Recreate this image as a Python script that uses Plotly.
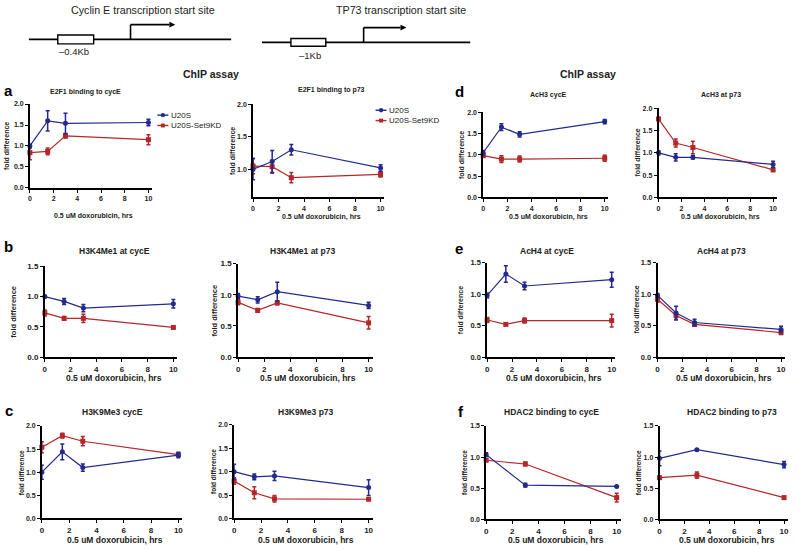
import plotly.graph_objects as go

W, H = 798, 549
BLUE = "#232a8c"
RED = "#b4262a"
FONT = "Liberation Sans"

# ---------------- data ----------------
time_hrs = [0, 1.5, 3, 10]
time_hdac = [0, 3, 10]
series_names = ["U20S", "U20S-Set9KD"]

e2f1_cyce_u20s = [1.00, 1.60, 1.54, 1.56]
e2f1_cyce_u20s_err = [0.05, 0.24, 0.24, 0.08]
e2f1_cyce_kd = [0.84, 0.87, 1.24, 1.15]
e2f1_cyce_kd_err = [0.17, 0.08, 0.05, 0.12]

e2f1_p73_u20s = [1.00, 1.12, 1.30, 1.02]
e2f1_p73_u20s_err = [0.16, 0.17, 0.08, 0.05]
e2f1_p73_kd = [1.05, 1.04, 0.87, 0.92]
e2f1_p73_kd_err = [0.12, 0.10, 0.08, 0.04]

ach3_cyce_u20s = [1.05, 1.65, 1.48, 1.78]
ach3_cyce_u20s_err = [0.05, 0.08, 0.06, 0.05]
ach3_cyce_kd = [0.98, 0.90, 0.90, 0.92]
ach3_cyce_kd_err = [0.03, 0.08, 0.07, 0.07]

ach3_p73_u20s = [1.00, 0.90, 0.90, 0.74]
ach3_p73_u20s_err = [0.05, 0.08, 0.04, 0.07]
ach3_p73_kd = [1.76, 1.22, 1.12, 0.62]
ach3_p73_kd_err = [0.04, 0.09, 0.14, 0.04]

h3k4_cyce_u20s = [1.00, 0.92, 0.81, 0.88]
h3k4_cyce_u20s_err = [0.02, 0.05, 0.06, 0.07]
h3k4_cyce_kd = [0.73, 0.64, 0.64, 0.49]
h3k4_cyce_kd_err = [0.05, 0.03, 0.07, 0.01]

h3k4_p73_u20s = [0.98, 0.92, 1.05, 0.83]
h3k4_p73_u20s_err = [0.04, 0.05, 0.15, 0.05]
h3k4_p73_kd = [0.88, 0.75, 0.87, 0.55]
h3k4_p73_kd_err = [0.04, 0.03, 0.03, 0.10]

ach4_cyce_u20s = [0.98, 1.32, 1.13, 1.23]
ach4_cyce_u20s_err = [0.04, 0.13, 0.06, 0.12]
ach4_cyce_kd = [0.59, 0.52, 0.58, 0.58]
ach4_cyce_kd_err = [0.04, 0.02, 0.04, 0.10]

ach4_p73_u20s = [0.98, 0.70, 0.55, 0.44]
ach4_p73_u20s_err = [0.03, 0.11, 0.05, 0.05]
ach4_p73_kd = [0.92, 0.66, 0.52, 0.39]
ach4_p73_kd_err = [0.05, 0.06, 0.03, 0.03]

h3k9_cyce_u20s = [1.00, 1.44, 1.10, 1.37]
h3k9_cyce_u20s_err = [0.15, 0.17, 0.08, 0.06]
h3k9_cyce_kd = [1.54, 1.79, 1.67, 1.38]
h3k9_cyce_kd_err = [0.12, 0.05, 0.10, 0.03]

h3k9_p73_u20s = [1.00, 0.89, 0.91, 0.66]
h3k9_p73_u20s_err = [0.16, 0.06, 0.10, 0.17]
h3k9_p73_kd = [0.80, 0.55, 0.42, 0.41]
h3k9_p73_kd_err = [0.07, 0.13, 0.07, 0.02]

hdac2_cyce_u20s = [1.04, 0.55, 0.53]
hdac2_cyce_u20s_err = [0.03, 0.03, 0.01]
hdac2_cyce_kd = [0.95, 0.89, 0.35]
hdac2_cyce_kd_err = [0.02, 0.03, 0.07]

hdac2_p73_u20s = [0.98, 1.12, 0.88]
hdac2_p73_u20s_err = [0.12, 0.01, 0.05]
hdac2_p73_kd = [0.67, 0.71, 0.35]
hdac2_p73_kd_err = [0.01, 0.05, 0.02]

x_ticks = [0, 2, 4, 6, 8, 10]
y_ticks_2 = [0.0, 0.5, 1.0, 1.5, 2.0]
y_ticks_15 = [0.0, 0.5, 1.0, 1.5]
y_ticks_p73a = [1.0, 1.5, 2.0]

# ---------------- layout helpers ----------------
def px(x):
    return x / W

def py(y):
    return 1 - y / H

# title, x, u20s, err, kd, err, yticks, yrange, x0, x10, ytop, ybot,
# title xy, ylabel x, xlabel y, text size, y-tick size, y-label size
panels = [
    ("E2F1 binding to cycE", time_hrs, e2f1_cyce_u20s, e2f1_cyce_u20s_err, e2f1_cyce_kd, e2f1_cyce_kd_err,
     y_ticks_2, [0, 2.0], 28, 147, 101.7, 187, (84, 89), 5, 216, 7, 7, 7),
    ("E2F1 binding to p73", time_hrs, e2f1_p73_u20s, e2f1_p73_u20s_err, e2f1_p73_kd, e2f1_p73_kd_err,
     y_ticks_p73a, [0.565, 2.0], 252, 380, 102, 196.7, (331, 87), 232, 217, 7, 7, 7),
    ("AcH3 cycE", time_hrs, ach3_cyce_u20s, ach3_cyce_u20s_err, ach3_cyce_kd, ach3_cyce_kd_err,
     y_ticks_2, [0, 2.0], 483, 605, 110, 196.7, (549, 93), 462, 217, 7, 7, 7),
    ("AcH3 at p73", time_hrs, ach3_p73_u20s, ach3_p73_u20s_err, ach3_p73_kd, ach3_p73_kd_err,
     y_ticks_2, [0, 2.0], 659, 774, 106, 196.7, (722, 93), 638, 217, 7, 7, 7),
    ("H3K4Me1 at cycE", time_hrs, h3k4_cyce_u20s, h3k4_cyce_u20s_err, h3k4_cyce_kd, h3k4_cyce_kd_err,
     y_ticks_15, [0, 1.5], 43, 172, 266.7, 359, (113, 251), 12, 380, 8.5, 8, 7.5),
    ("H3K4Me1 at p73", time_hrs, h3k4_p73_u20s, h3k4_p73_u20s_err, h3k4_p73_kd, h3k4_p73_kd_err,
     y_ticks_15, [0, 1.5], 237, 368, 264, 359, (302, 251), 213, 380, 8.5, 8, 7.5),
    ("AcH4 at cycE", time_hrs, ach4_cyce_u20s, ach4_cyce_u20s_err, ach4_cyce_kd, ach4_cyce_kd_err,
     y_ticks_15, [0, 1.5], 487, 612, 263, 359, (547, 251), 461, 380, 8.5, 7.5, 7),
    ("AcH4 at p73", time_hrs, ach4_p73_u20s, ach4_p73_u20s_err, ach4_p73_kd, ach4_p73_kd_err,
     y_ticks_15, [0, 1.5], 658, 782, 263, 359, (722, 251), 637, 380, 8.5, 7.5, 7),
    ("H3K9Me3 cycE", time_hrs, h3k9_cyce_u20s, h3k9_cyce_u20s_err, h3k9_cyce_kd, h3k9_cyce_kd_err,
     y_ticks_2, [0, 2.0], 40, 177, 429, 523, (111, 415), 19, 545, 8.5, 7, 6.5),
    ("H3K9Me3 p73", time_hrs, h3k9_p73_u20s, h3k9_p73_u20s_err, h3k9_p73_kd, h3k9_p73_kd_err,
     y_ticks_2, [0, 2.0], 233, 368, 428, 523, (305, 415), 213, 545, 8.5, 7, 6.5),
    ("HDAC2 binding to cycE", time_hdac, hdac2_cyce_u20s, hdac2_cyce_u20s_err, hdac2_cyce_kd, hdac2_cyce_kd_err,
     y_ticks_15, [0, 1.5], 486, 617, 429, 524, (552, 415), 464, 545, 8.5, 7, 6.5),
    ("HDAC2 binding to p73", time_hdac, hdac2_p73_u20s, hdac2_p73_u20s_err, hdac2_p73_kd, hdac2_p73_kd_err,
     y_ticks_15, [0, 1.5], 660, 785, 429, 524, (733, 415), 639, 545, 8.5, 7, 6.5),
]

fig = go.Figure()
annotations = []
shapes = []
layout_axes = {}
X_MAX = 10.3

for i, (title, xs, u, ue, k, ke, yt, yr, x0, x10, ytop, ybot, txy, ylx, xly, fs, yts, yls) in enumerate(panels):
    n = "" if i == 0 else str(i + 1)
    xa, ya = "x" + n, "y" + n
    xend = x0 + (x10 - x0) * X_MAX / 10
    xtf = dict(family=FONT, size=7 if fs < 8 else 8, color="#222", weight=700)
    ytf = dict(family=FONT, size=yts, color="#222", weight=700)
    layout_axes["xaxis" + n] = dict(
        domain=[px(x0), px(xend)], range=[0, X_MAX], anchor=ya,
        tickvals=x_ticks, showline=True, linecolor="black", linewidth=1.6,
        ticks="outside", ticklen=3, tickwidth=1.4, tickcolor="black",
        showgrid=False, zeroline=False, tickfont=xtf,
    )
    layout_axes["yaxis" + n] = dict(
        domain=[py(ybot), py(ytop)], range=yr, anchor=xa,
        tickvals=yt, tickformat=".1f", showline=True, linecolor="black", linewidth=1.6,
        ticks="outside", ticklen=3, tickwidth=1.4, tickcolor="black",
        showgrid=False, zeroline=False, tickfont=ytf,
    )
    for vals, errs, col, sym, nm in [(k, ke, RED, "square", series_names[1]),
                                     (u, ue, BLUE, "circle", series_names[0])]:
        fig.add_trace(go.Scatter(
            x=xs, y=vals, xaxis=xa, yaxis=ya, name=nm, mode="lines+markers",
            line=dict(color=col, width=1.2),
            marker=dict(color=col, symbol=sym, size=5),
            error_y=dict(type="data", array=errs, color=col, thickness=1.5, width=2),
            cliponaxis=False, showlegend=False,
        ))
    annotations.append(dict(x=px(txy[0]), y=py(txy[1]), xref="paper", yref="paper",
                            text="<b>%s</b>" % title, showarrow=False,
                            font=dict(family=FONT, size=fs if fs < 8 else 8.5, color="#222"),
                            xanchor="center", yanchor="middle"))
    annotations.append(dict(x=px(ylx), y=py((ytop + ybot) / 2), xref="paper", yref="paper",
                            text="<b>fold difference</b>", showarrow=False, textangle=-90,
                            font=dict(family=FONT, size=yls, color="#222"),
                            xanchor="center", yanchor="middle"))
    annotations.append(dict(x=px((x0 + xend) / 2 + 3), y=py(xly), xref="paper", yref="paper",
                            text="<b>0.5 uM doxorubicin, hrs</b>", showarrow=False,
                            font=dict(family=FONT, size=fs, color="#222"),
                            xanchor="center", yanchor="middle"))

for letter, lx, ly in [("a", 7, 88), ("b", 7, 247), ("c", 7, 413),
                       ("d", 459, 89), ("e", 459, 249), ("f", 461, 414)]:
    annotations.append(dict(x=px(lx), y=py(ly), xref="paper", yref="paper",
                            text="<b>%s</b>" % letter, showarrow=False,
                            font=dict(family=FONT, size=15, color="black"),
                            xanchor="center", yanchor="middle"))

for lx, ly in [(156, 113), (375, 108)]:
    for j, (col, sym) in enumerate([(BLUE, "circle"), (RED, "square")]):
        yy = ly + j * 10.5
        shapes.append(dict(type="line", xref="paper", yref="paper",
                           x0=px(lx), x1=px(lx + 11), y0=py(yy), y1=py(yy),
                           line=dict(color=col, width=1.4)))
        if sym == "circle":
            shapes.append(dict(type="circle", xref="paper", yref="paper",
                               x0=px(lx + 3.3), x1=px(lx + 7.7), y0=py(yy + 2.2), y1=py(yy - 2.2),
                               fillcolor=col, line=dict(color=col, width=0)))
        else:
            shapes.append(dict(type="rect", xref="paper", yref="paper",
                               x0=px(lx + 3.5), x1=px(lx + 7.5), y0=py(yy + 2), y1=py(yy - 2),
                               fillcolor=col, line=dict(color=col, width=0)))
        annotations.append(dict(x=px(lx + 11.5), y=py(yy), xref="paper", yref="paper",
                                text=series_names[j], showarrow=False,
                                font=dict(family=FONT, size=8, color="#222"),
                                xanchor="left", yanchor="middle"))

def seg(xa_, ya_, xb_, yb_, w=1.6):
    shapes.append(dict(type="line", xref="paper", yref="paper",
                       x0=px(xa_), y0=py(ya_), x1=px(xb_), y1=py(yb_),
                       line=dict(color="black", width=w)))

def tri(xt, yt):
    shapes.append(dict(type="path", xref="paper", yref="paper",
                       path="M %f %f L %f %f L %f %f Z" % (px(xt), py(yt), px(xt - 6), py(yt - 3),
                                                           px(xt - 6), py(yt + 3)),
                       fillcolor="black", line=dict(color="black", width=0)))

seg(27, 36, 230, 36)
shapes.append(dict(type="rect", xref="paper", yref="paper",
                   x0=px(56), x1=px(92), y0=py(40.5), y1=py(31.5),
                   fillcolor="white", line=dict(color="black", width=1.4)))
seg(129, 36, 129, 21)
seg(129, 21, 168, 21)
tri(174, 21)
annotations.append(dict(x=px(142), y=py(6), xref="paper", yref="paper",
                        text="Cyclin E transcription start site", showarrow=False,
                        font=dict(family=FONT, size=10.7, color="#222"), xanchor="center", yanchor="middle"))
annotations.append(dict(x=px(72), y=py(48), xref="paper", yref="paper",
                        text="\u20130.4Kb", showarrow=False,
                        font=dict(family=FONT, size=9.5, color="#222"), xanchor="center", yanchor="middle"))
seg(261, 39, 470, 39)
shapes.append(dict(type="rect", xref="paper", yref="paper",
                   x0=px(290), x1=px(325), y0=py(43), y1=py(35),
                   fillcolor="white", line=dict(color="black", width=1.4)))
seg(363, 39, 363, 24)
seg(363, 24, 400, 24)
tri(406, 24)
annotations.append(dict(x=px(401), y=py(6), xref="paper", yref="paper",
                        text="TP73 transcription start site", showarrow=False,
                        font=dict(family=FONT, size=10.7, color="#222"), xanchor="center", yanchor="middle"))
annotations.append(dict(x=px(309), y=py(52), xref="paper", yref="paper",
                        text="\u20131Kb", showarrow=False,
                        font=dict(family=FONT, size=9.5, color="#222"), xanchor="center", yanchor="middle"))

for cx in [210, 588]:
    annotations.append(dict(x=px(cx), y=py(71), xref="paper", yref="paper",
                            text="<b>ChIP assay</b>", showarrow=False,
                            font=dict(family=FONT, size=10.5, color="#222"), xanchor="center", yanchor="middle"))

fig.update_layout(
    width=W, height=H, margin=dict(l=0, r=0, t=0, b=0),
    paper_bgcolor="white", plot_bgcolor="white",
    showlegend=False, annotations=annotations, shapes=shapes,
    **layout_axes,
)

fig.write_html("out.html", config={"displayModeBar": False},
               post_script="document.body.style.margin='0px';document.body.style.overflow='hidden';")
